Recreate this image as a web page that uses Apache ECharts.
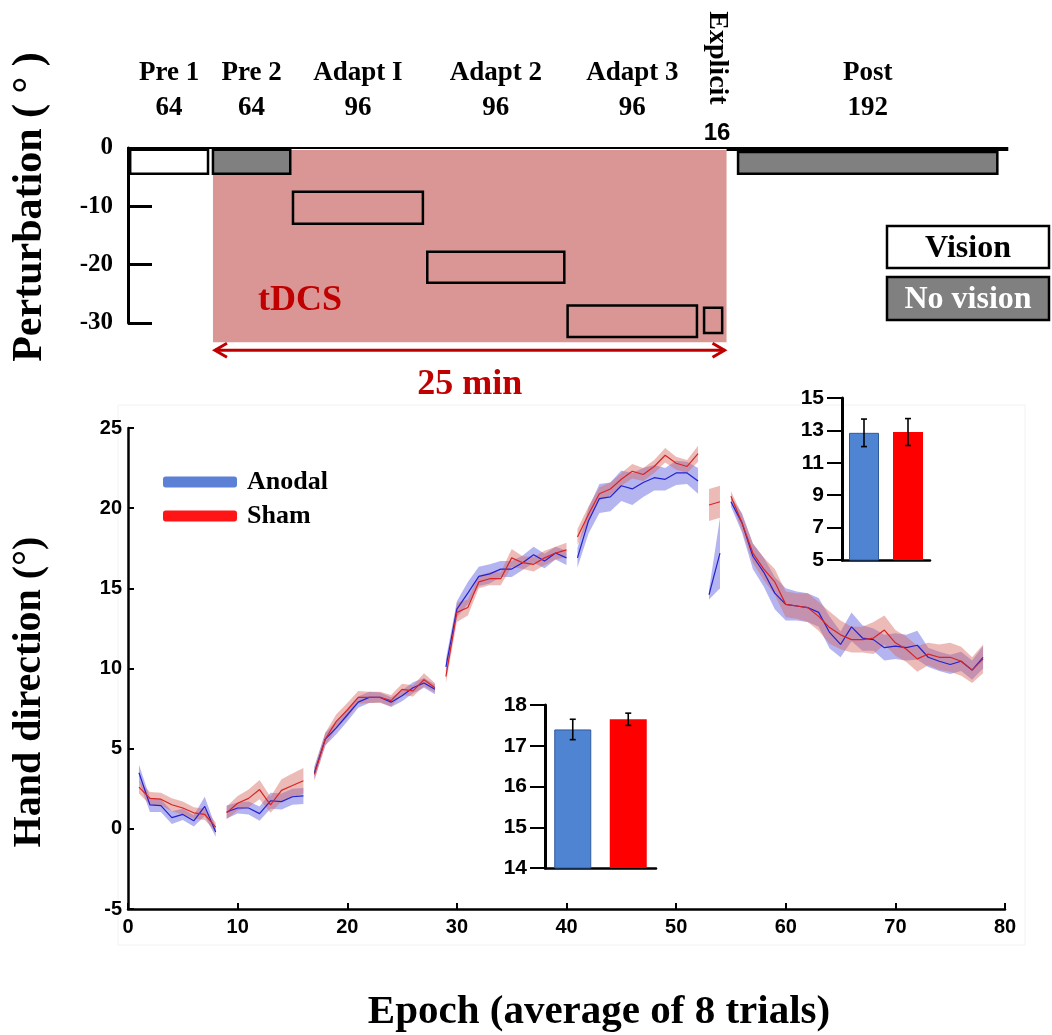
<!DOCTYPE html>
<html><head><meta charset="utf-8">
<script src="https://cdn.jsdelivr.net/npm/echarts@6/dist/echarts.min.js"></script>
<style>html,body{margin:0;padding:0;background:#fff}#c{width:1052px;height:1035px}</style>
</head><body><div id="c"></div>
<script>
// ---------- DATA ----------
const segments = [[1,8],[9,16],[17,28],[29,40],[41,52],[53,54],[55,78]];
const seriesNames = ['Anodal','Sham'];
const anodalMean = [
  3.5,1.5,1.45,0.7,0.9,0.5,1.4,-0.2,
  1.05,1.3,1.3,0.95,1.75,1.7,2.0,2.05,
  3.5,5.6,6.3,7.1,7.9,8.2,8.2,7.9,8.3,8.8,9.1,8.7,
  10.1,13.7,14.7,15.75,15.9,16.2,16.2,16.6,17.1,16.7,17.2,16.9,
  16.9,19.2,20.6,20.7,21.4,21.2,21.6,21.9,21.8,22.2,22.2,21.7,
  14.6,17.2,
  20.4,19.1,17.0,16.0,14.7,14.0,13.9,13.8,13.5,12.25,11.5,12.6,11.9,11.8,11.3,11.4,11.3,11.45,10.7,10.45,10.25,10.45,9.9,10.7
];
const anodalSem = [
  0.5,0.45,0.4,0.4,0.35,0.35,0.6,0.3,
  0.4,0.35,0.4,0.45,0.5,0.5,0.5,0.5,
  0.4,0.4,0.4,0.4,0.35,0.35,0.3,0.3,0.35,0.35,0.3,0.3,
  0.5,0.5,0.7,0.6,0.6,0.5,0.5,0.45,0.5,0.45,0.4,0.45,
  0.6,0.8,0.9,0.9,0.95,1.0,0.9,0.8,0.7,0.75,0.7,0.8,
  0.3,2.2,
  0.3,0.6,0.8,0.9,1.0,1.0,0.9,0.9,0.9,1.0,0.8,0.9,0.8,0.7,0.8,0.8,0.8,0.9,0.6,0.6,0.6,0.6,0.6,0.7
];
const shamMean = [
  2.6,1.9,1.85,1.5,1.3,1.0,0.9,0.1,
  1.0,1.6,1.9,2.45,1.5,2.4,2.7,3.0,
  3.4,5.6,6.7,7.4,8.2,8.2,8.2,8.0,8.7,8.6,9.3,8.8,
  9.5,13.5,13.8,15.4,15.6,15.6,16.9,16.6,16.5,16.9,17.2,17.4,
  18.2,19.6,20.9,21.2,21.8,22.3,22.1,22.6,23.3,22.8,22.6,23.4,
  20.2,20.4,
  20.75,19.1,17.2,16.2,15.4,14.0,13.9,13.8,13.25,12.55,12.1,11.8,11.8,11.9,12.4,11.6,11.2,10.6,10.9,10.7,10.7,10.45,9.9,10.6
];
const shamSem = [
  0.4,0.4,0.4,0.4,0.4,0.35,0.35,0.3,
  0.4,0.45,0.55,0.6,0.5,0.7,0.75,0.8,
  0.4,0.4,0.45,0.45,0.4,0.35,0.35,0.35,0.35,0.35,0.4,0.3,
  0.4,0.6,0.5,0.4,0.4,0.4,0.55,0.4,0.45,0.45,0.4,0.45,
  0.5,0.5,0.4,0.4,0.4,0.45,0.4,0.4,0.45,0.4,0.4,0.5,
  1.0,1.0,
  0.3,0.5,0.6,0.7,0.8,0.8,0.8,0.9,0.9,1.0,0.9,0.8,0.8,1.0,0.9,0.8,0.8,0.8,0.7,0.8,0.9,0.9,0.8,0.9
];
const mainXTicks = {min:0, max:80, interval:10};
const mainYTicks = {min:-5, max:25, interval:5};

// inset bars
const adaptBarMean = [17.4, 17.65];
const adaptBarErr = [0.25, 0.15];
const adaptYTicks = {min:14, max:18, interval:1};
const postBarMean = [12.85, 12.9];
const postBarErr = [0.85, 0.83];
const postYTicks = {min:5, max:15, interval:2};

// schematic (x in epochs, y in degrees of perturbation)
const phaseNames = ['Pre 1','Pre 2','Adapt I','Adapt 2','Adapt 3','Explicit','Post'];
const phaseTrials = [64,64,96,96,96,16,192];
const phaseStart = [0.2,7.75,15.05,27.3,40.1,52.55,55.65];
const phaseEnd = [7.3,14.8,26.9,39.8,51.9,54.2,79.3];
const phaseTop = [-0.3,-0.3,-7.5,-17.8,-27,-27.4,-0.7];
const phaseBottom = [-4.4,-4.4,-13,-23.1,-32.4,-31.7,-4.4];
const phaseFill = ['vision','novision','none','none','none','none','novision'];
const tdcsSpan = [7.75, 54.6];
const tdcsDepth = -33.3;
const pertTicks = {min:-30, max:0, interval:10};

// ---------- STYLE ----------
const SERIF = "'Liberation Serif','Times New Roman',serif";
const SANS = "'Liberation Sans',Arial,sans-serif";
const DARKRED = '#c00000';
const PINK = '#d99694';
const GRAY = '#808080';

function lineData(mean){
  const out=[];
  segments.forEach((s,k)=>{
    if(k>0) out.push([s[0]-0.5,'-']);
    for(let e=s[0];e<=s[1];e++) out.push([e, mean[e-1]]);
  });
  return out;
}
function bandSeries(mean, sem, color, z){
  return {
    type:'custom', xAxisIndex:0, yAxisIndex:0, z, silent:true,
    encode:{x:0,y:1},
    data: segments.map((s,k)=>[s[0], mean[s[0]-1], k]),
    renderItem(params, api){
      const s = segments[api.value(2)];
      const pts=[];
      for(let e=s[0];e<=s[1];e++) pts.push(api.coord([e, mean[e-1]+sem[e-1]]));
      for(let e=s[1];e>=s[0];e--) pts.push(api.coord([e, mean[e-1]-sem[e-1]]));
      return {type:'polygon', shape:{points:pts}, style:{fill:color}};
    }
  };
}
function errSeries(mean, err, xi, yi){
  return {
    type:'custom', xAxisIndex:xi, yAxisIndex:yi, z:5, silent:true,
    encode:{x:0,y:1},
    data: mean.map((m,i)=>[i, m, m-err[i], m+err[i]]),
    renderItem(params, api){
      const lo = api.coord([api.value(0), api.value(2)]);
      const hi = api.coord([api.value(0), api.value(3)]);
      const st = {stroke:'#000', lineWidth:1.6};
      return {type:'group', children:[
        {type:'line', shape:{x1:lo[0],y1:lo[1],x2:hi[0],y2:hi[1]}, style:st},
        {type:'line', shape:{x1:lo[0]-3,y1:lo[1],x2:lo[0]+3,y2:lo[1]}, style:st},
        {type:'line', shape:{x1:hi[0]-3,y1:hi[1],x2:hi[0]+3,y2:hi[1]}, style:st}
      ]};
    }
  };
}
function insetY(t, gi){
  return {gridIndex:gi, type:'value', min:t.min, max:t.max, interval:t.interval,
    axisLine:{show:true, lineStyle:{color:'#000', width:3}},
    axisTick:{show:true, inside:false, length:15, lineStyle:{color:'#000', width:2}},
    axisLabel:{color:'#000', fontFamily:SANS, fontWeight:'bold', fontSize:21, margin:18},
    splitLine:{show:false}};
}
function insetX(gi){
  return {gridIndex:gi, type:'category', data:seriesNames,
    axisLine:{show:true, onZero:false, lineStyle:{color:'#000', width:2.5}},
    axisTick:{show:false}, axisLabel:{show:false}, splitLine:{show:false}};
}

const chart = echarts.init(document.getElementById('c'), null, {renderer:'canvas'});
const option = {
  animation:false,
  backgroundColor:'#ffffff',
  grid:[
    {left:128, top:428, width:877, height:481},
    {left:128, top:148, width:877, height:175},
    {left:842, top:398, width:88, height:162},
    {left:545, top:705, width:111, height:163}
  ],
  xAxis:[
    {gridIndex:0, type:'value', min:mainXTicks.min, max:mainXTicks.max, interval:mainXTicks.interval,
     axisLine:{show:true, onZero:false, lineStyle:{color:'#000', width:2.5}},
     axisTick:{show:true, inside:true, length:6, lineStyle:{color:'#000', width:2}},
     axisLabel:{color:'#000', fontFamily:SANS, fontWeight:'bold', fontSize:20, margin:8},
     splitLine:{show:false}},
    {gridIndex:1, type:'value', min:0, max:80,
     axisLine:{show:true, onZero:true, lineStyle:{color:'#000', width:2}},
     axisTick:{show:false}, axisLabel:{show:false}, splitLine:{show:false}},
    insetX(2), insetX(3)
  ],
  yAxis:[
    {gridIndex:0, type:'value', min:mainYTicks.min, max:mainYTicks.max, interval:mainYTicks.interval,
     axisLine:{show:true, lineStyle:{color:'#000', width:2.5}},
     axisTick:{show:true, inside:true, length:6, lineStyle:{color:'#000', width:2}},
     axisLabel:{color:'#000', fontFamily:SANS, fontWeight:'bold', fontSize:20, margin:6},
     splitLine:{show:false}},
    {gridIndex:1, type:'value', min:pertTicks.min, max:pertTicks.max, interval:pertTicks.interval, offset:5,
     axisLine:{show:true, lineStyle:{color:'#000', width:3}},
     axisTick:{show:true, inside:true, length:24, lineStyle:{color:'#000', width:3}},
     axisLabel:{color:'#000', fontFamily:SERIF, fontWeight:'bold', fontSize:25, margin:10},
     splitLine:{show:false}},
    insetY(postYTicks, 2), insetY(adaptYTicks, 3)
  ],
  legend:{
    left:158, top:464, orient:'vertical', itemWidth:74, itemHeight:11, itemGap:8,
    icon:'roundRect',
    textStyle:{color:'#000', fontFamily:SERIF, fontWeight:'bold', fontSize:26, lineHeight:26, padding:[0,0,0,5]},
    data:[
      {name:'Anodal', icon:'roundRect', itemStyle:{color:'#5b80d6'}},
      {name:'Sham', icon:'roundRect', itemStyle:{color:'#ff1515'}}
    ]
  },
  graphic:[
    {type:'rect', shape:{x:118, y:405, width:907, height:540}, style:{fill:'none', stroke:'#f2f2f2', lineWidth:1}, z:0, silent:true},
    {type:'text', x:30, y:207, rotation:Math.PI/2, style:{text:'Perturbation ( ° )', fill:'#000', font:"bold 42px 'Liberation Serif'", align:'center', verticalAlign:'middle'}},
    {type:'text', x:30, y:692, rotation:Math.PI/2, style:{text:'Hand direction (°)', fill:'#000', font:"bold 40px 'Liberation Serif'", align:'center', verticalAlign:'middle'}},
    {type:'text', x:599, y:1012, style:{text:'Epoch (average of 8 trials)', fill:'#000', font:"bold 41px 'Liberation Serif'", align:'center', verticalAlign:'middle'}},
    {type:'rect', shape:{x:887, y:226, width:162, height:42}, style:{fill:'#fff', stroke:'#000', lineWidth:2.5}},
    {type:'text', x:968, y:249, style:{text:'Vision', fill:'#000', font:"bold 32px 'Liberation Serif'", align:'center', verticalAlign:'middle'}},
    {type:'rect', shape:{x:887, y:277, width:162, height:43}, style:{fill:GRAY, stroke:'#000', lineWidth:2.5}},
    {type:'text', x:968, y:300, style:{text:'No vision', fill:'#fff', font:"bold 32px 'Liberation Serif'", align:'center', verticalAlign:'middle'}}
  ],
  series:[
    // tDCS block
    {type:'custom', xAxisIndex:1, yAxisIndex:1, z:1, silent:true, encode:{x:0,y:1},
     data:[[tdcsSpan[0], 0, tdcsSpan[1], tdcsDepth]],
     renderItem(params, api){
       const a = api.coord([api.value(0), api.value(1)]);
       const b = api.coord([api.value(2), api.value(3)]);
       const ay = b[1] + 8;
       const st = {stroke:DARKRED, lineWidth:3, fill:'none'};
       return {type:'group', children:[
         {type:'rect', shape:{x:a[0], y:a[1]+2, width:b[0]-a[0], height:b[1]-a[1]-2}, style:{fill:PINK}},
         {type:'line', shape:{x1:a[0]+2, y1:ay, x2:b[0]-2, y2:ay}, style:st},
         {type:'polyline', shape:{points:[[a[0]+14,ay-7],[a[0]+2,ay],[a[0]+14,ay+7]]}, style:st},
         {type:'polyline', shape:{points:[[b[0]-14,ay-7],[b[0]-2,ay],[b[0]-14,ay+7]]}, style:st},
         {type:'text', x:a[0]+87, y:b[1]-42, style:{text:'tDCS', fill:DARKRED, font:"bold 36px 'Liberation Serif'", align:'center', verticalAlign:'middle'}},
         {type:'text', x:(a[0]+b[0])/2, y:ay+34, style:{text:'25 min', fill:DARKRED, font:"bold 36px 'Liberation Serif'", align:'center', verticalAlign:'middle'}}
       ]};
     }},
    // phase boxes + labels
    {type:'custom', xAxisIndex:1, yAxisIndex:1, z:2, silent:true, encode:{x:0,y:1},
     data: phaseNames.map((n,i)=>[phaseStart[i], phaseTop[i], i]),
     renderItem(params, api){
       const i = api.value(2);
       const a = api.coord([phaseStart[i], phaseTop[i]]);
       const b = api.coord([phaseEnd[i], phaseBottom[i]]);
       const z0 = api.coord([phaseStart[i], 0]);
       const cx = (a[0]+b[0])/2;
       const fill = phaseFill[i]==='vision' ? '#ffffff' : (phaseFill[i]==='novision' ? GRAY : 'rgba(0,0,0,0)');
       const ch = [{type:'rect', shape:{x:a[0], y:a[1], width:b[0]-a[0], height:b[1]-a[1]}, style:{fill, stroke:'#000', lineWidth:2.5}}];
       if (phaseNames[i]==='Explicit'){
         ch.push({type:'text', x:cx+4, y:z0[1]-90, rotation:-Math.PI/2, style:{text:phaseNames[i], fill:'#000', font:"bold 28px 'Liberation Serif'", align:'center', verticalAlign:'middle'}});
         ch.push({type:'text', x:cx+4, y:z0[1]-15, style:{text:String(phaseTrials[i]), fill:'#000', font:"bold 24px 'Liberation Sans'", align:'center', verticalAlign:'middle'}});
       } else {
         ch.push({type:'text', x:cx, y:z0[1]-75, style:{text:phaseNames[i], fill:'#000', font:"bold 27px 'Liberation Serif'", align:'center', verticalAlign:'middle'}});
         ch.push({type:'text', x:cx, y:z0[1]-40, style:{text:String(phaseTrials[i]), fill:'#000', font:"bold 27px 'Liberation Serif'", align:'center', verticalAlign:'middle'}});
       }
       if (phaseNames[i]==='Post'){
         const s = api.coord([tdcsSpan[1], 0]);
         const e = api.coord([80.3, 0]);
         ch.push({type:'line', shape:{x1:s[0], y1:s[1]+1, x2:e[0], y2:e[1]+1}, style:{stroke:'#000', lineWidth:4}});
       }
       return {type:'group', children:ch};
     }},
    // bands
    bandSeries(anodalMean, anodalSem, 'rgba(105,105,225,0.5)', 2),
    bandSeries(shamMean, shamSem, 'rgba(215,105,95,0.45)', 2),
    // mean lines
    {name:'Anodal', type:'line', xAxisIndex:0, yAxisIndex:0, z:3, data:lineData(anodalMean),
     showSymbol:false, symbol:'none', connectNulls:false,
     itemStyle:{color:'#5b80d6'}, lineStyle:{color:'#2222d0', width:1.2}},
    {name:'Sham', type:'line', xAxisIndex:0, yAxisIndex:0, z:3, data:lineData(shamMean),
     showSymbol:false, symbol:'none', connectNulls:false,
     itemStyle:{color:'#ff1515'}, lineStyle:{color:'#d82424', width:1.2}},
    // inset: post
    {type:'bar', xAxisIndex:2, yAxisIndex:2, barWidth:30, z:3,
     data:[{value:postBarMean[0], itemStyle:{color:'#4f84d2', borderColor:'#2f5a9a', borderWidth:1}},
           {value:postBarMean[1], itemStyle:{color:'#ff0000'}}]},
    errSeries(postBarMean, postBarErr, 2, 2),
    // inset: adapt
    {type:'bar', xAxisIndex:3, yAxisIndex:3, barWidth:37, z:3,
     data:[{value:adaptBarMean[0], itemStyle:{color:'#4f84d2', borderColor:'#2f5a9a', borderWidth:1}},
           {value:adaptBarMean[1], itemStyle:{color:'#ff0000'}}]},
    errSeries(adaptBarMean, adaptBarErr, 3, 3)
  ]
};
chart.setOption(option);
</script>
</body></html>
